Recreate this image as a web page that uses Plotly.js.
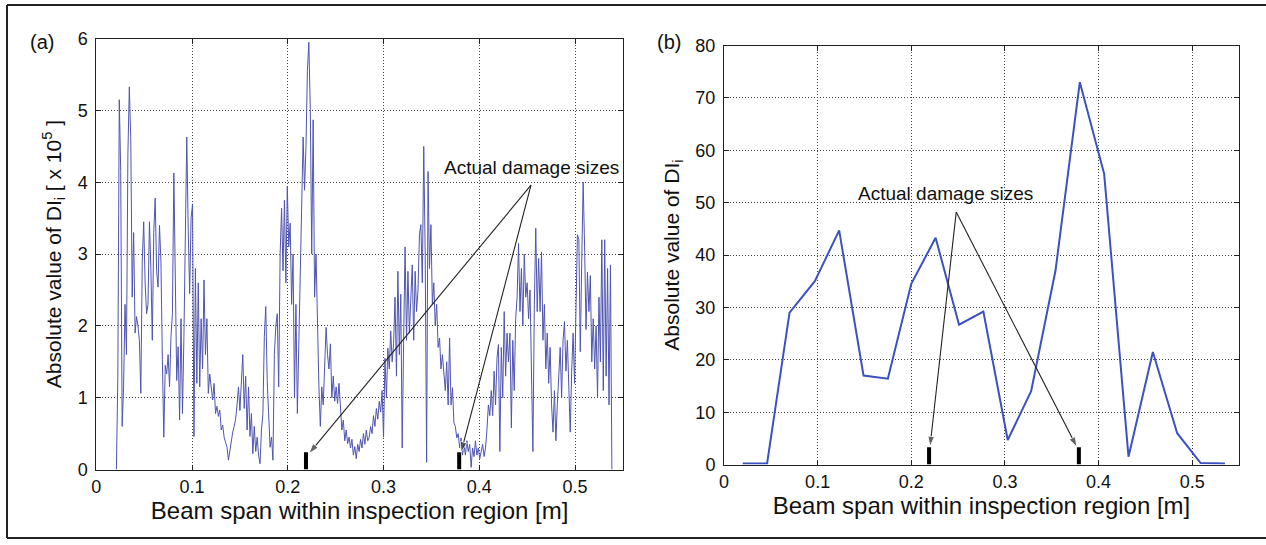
<!DOCTYPE html>
<html><head><meta charset="utf-8">
<script src="https://cdn.plot.ly/plotly-3.0.1.min.js"></script>
<style>html,body{margin:0;padding:0;background:#fff}#chart{width:1266px;height:545px}</style>
</head><body><div id="chart"></div>
<script>
// ---------- data ----------
// (a) |DI_i| in units of 1e5, sampled uniformly along the span
const spanStartA = 0.021;   // m, first sample
const spanStepA = 0.0015;   // m, sample spacing
const diA = [
0.0, 1.3, 5.15, 4.15, 0.6, 1.15, 2.3, 1.6, 4.4, 5.33,
4.6, 2.4, 3.3, 1.9, 2.13, 2.0, 1.8, 1.06, 2.9, 3.45,
2.6, 2.17, 2.3, 3.45, 2.8, 1.8, 3.3, 3.78, 2.77, 2.54,
3.4, 2.9, 1.53, 0.45, 1.45, 1.33, 1.6, 1.15, 1.85, 2.17,
4.13, 2.5, 1.24, 1.71, 0.69, 2.1, 0.78, 1.85, 3.66, 4.63,
3.33, 2.45, 3.5, 3.7, 0.46, 2.8, 1.2, 2.6, 1.15, 2.1,
1.4, 2.64, 1.6, 2.1, 1.06, 1.33, 1.15, 0.97, 1.2, 0.78,
0.88, 0.74, 0.83, 0.55, 0.62, 0.45, 0.38, 0.31, 0.13, 0.27,
0.4, 0.52, 0.6, 0.7, 0.9, 1.15, 0.82, 1.33, 1.6, 0.85,
1.3, 0.55, 1.15, 0.46, 0.78, 0.22, 0.6, 0.25, 0.45, 0.2,
0.08, 0.55, 0.78, 1.85, 2.27, 1.24, 0.69, 0.31, 0.45, 0.13,
1.6, 2.0, 2.17, 1.15, 3.0, 3.64, 2.77, 3.75, 2.6, 3.94,
3.1, 3.43, 2.3, 3.0, 1.0, 2.3, 0.78, 1.7, 2.4, 3.6,
4.63, 3.89, 4.5, 5.56, 5.95, 5.01, 3.0, 4.87, 2.4, 3.0,
1.9, 1.15, 0.6, 1.15, 0.9, 1.5, 1.98, 1.6, 1.4, 1.75,
1.0, 1.3, 0.95, 1.15, 0.92, 1.2, 0.78, 0.55, 0.69, 0.4,
0.55, 0.36, 0.45, 0.3, 0.42, 0.2, 0.32, 0.15, 0.35, 0.25,
0.42, 0.3, 0.5, 0.35, 0.55, 0.4, 0.45, 0.6, 0.5, 0.75,
0.6, 0.85, 0.7, 0.95, 0.8, 1.1, 0.45, 1.55, 1.0, 1.69,
1.4, 1.93, 1.5, 1.75, 2.4, 1.3, 2.76, 1.6, 2.44, 0.3,
1.8, 3.1, 1.8, 2.76, 1.9, 2.4, 2.85, 1.8, 2.76, 2.2,
2.5, 3.27, 3.41, 2.6, 4.5, 3.0, 0.1, 4.15, 2.8, 3.41,
2.3, 2.6, 2.0, 2.3, 1.7, 1.83, 1.4, 1.6, 1.37, 1.1,
1.5, 0.9, 1.83, 0.9, 1.14, 0.65, 0.6, 0.44, 0.5, 0.3,
0.44, 0.2, 0.35, 0.2, 0.4, 0.25, 0.35, 0.03, 0.3, 0.18,
0.4, 0.2, 0.3, 0.15, 0.25, 0.35, 0.18, 0.3, 0.55, 0.9,
0.75, 1.1, 0.75, 1.37, 0.9, 1.55, 1.74, 0.25, 1.7, 1.0,
2.2, 1.3, 1.9, 1.5, 1.9, 0.58, 1.8, 1.1, 2.1, 2.4,
3.15, 2.2, 2.8, 2.0, 3.0, 2.4, 2.6, 2.1, 2.5, 1.5,
0.25, 2.3, 3.36, 2.2, 2.94, 2.2, 3.03, 1.8, 2.3, 1.4,
1.9, 1.2, 1.7, 0.9, 0.52, 1.1, 0.4, 0.9, 1.3, 1.7,
1.0, 1.8, 2.06, 1.37, 1.8, 1.14, 0.52, 1.37, 1.9, 1.2,
2.3, 3.27, 3.2, 1.64, 2.9, 4.0, 3.1, 1.95, 2.75, 2.2,
2.7, 1.5, 2.1, 1.4, 2.0, 1.0, 2.4, 1.5, 3.2, 1.1,
3.2, 1.3, 2.8, 0.9, 2.85, 0.0
];

// (b) |DI_i|
const spanB = [0.020, 0.046, 0.070, 0.097, 0.123, 0.149, 0.175, 0.200, 0.226, 0.251, 0.277,
               0.303, 0.328, 0.354, 0.380, 0.406, 0.432, 0.458, 0.484, 0.509, 0.535];
const diB = [0.2, 0.2, 29, 35, 44.7, 17, 16.4, 34.5, 43.3, 26.7, 29.2,
             4.7, 14, 37, 73, 55.5, 1.5, 21.5, 6, 0.3, 0.2];

// actual damage locations and drawn marker heights
const damageX = [0.219, 0.379];
const damageA = [0.24, 0.24];
const damageB = [3.3, 3.3];

// annotation anchor points (data units)
const labelA = {x: 0.455, y: 4.2};
const tailA = {x: 0.454, y: 3.96};
const headsA = [{x: 0.222, y: 0.22}, {x: 0.381, y: 0.24}];
const labelB = {x: 0.237, y: 51.7};
const tailB = {x: 0.248, y: 48.2};
const headsB = [{x: 0.220, y: 3.4}, {x: 0.377, y: 3.3}];

const xTickVals = [0, 0.1, 0.2, 0.3, 0.4, 0.5];
const xTickText = ['0', '0.1', '0.2', '0.3', '0.4', '0.5'];
const yTickValsA = [0, 1, 2, 3, 4, 5, 6];
const yTickValsB = [0, 10, 20, 30, 40, 50, 60, 70, 80];

// ---------- figure ----------
const FONT = '"Liberation Sans", Arial, Helvetica, sans-serif';
const W = 1266, H = 545;
const px = v => v / W;
const py = v => 1 - v / H;

function barTrace(xs, hs, xa, ya) {
  const x = [], y = [];
  xs.forEach((d, k) => { if (k) { x.push(null); y.push(null); } x.push(d, d); y.push(0, hs[k]); });
  return {x, y, xaxis: xa, yaxis: ya, type: 'scatter', mode: 'lines',
          line: {color: '#000', width: 4}, hoverinfo: 'skip', showlegend: false};
}
function arrowTrace(tail, heads, xa, ya) {
  const x = [], y = [], size = [];
  heads.forEach((h, k) => {
    if (k) { x.push(null); y.push(null); size.push(0); }
    x.push(tail.x, h.x); y.push(tail.y, h.y); size.push(0, 11);
  });
  return {x, y, xaxis: xa, yaxis: ya, type: 'scatter', mode: 'lines+markers',
          line: {color: '#222', width: 1.1},
          marker: {symbol: 'arrow', angleref: 'previous', size, color: '#222'},
          cliponaxis: false, hoverinfo: 'skip', showlegend: false};
}

const traces = [
  {y: diA, x0: spanStartA, dx: spanStepA, type: 'scatter', mode: 'lines',
   line: {color: '#4f55b0', width: 1}, xaxis: 'x', yaxis: 'y', showlegend: false},
  barTrace(damageX, damageA, 'x', 'y'),
  arrowTrace(tailA, headsA, 'x', 'y'),
  {x: spanB, y: diB, type: 'scatter', mode: 'lines',
   line: {color: '#3b52c2', width: 2}, xaxis: 'x2', yaxis: 'y2', showlegend: false},
  barTrace(damageX, damageB, 'x2', 'y2'),
  arrowTrace(tailB, headsB, 'x2', 'y2')
];

const axCommon = {
  showline: true, linecolor: '#222', linewidth: 1, mirror: 'ticks',
  ticks: 'inside', ticklen: 5, tickcolor: '#222', tickwidth: 1,
  showgrid: true, gridcolor: '#444', gridwidth: 1, griddash: '1px,2px',
  zeroline: false, automargin: false,
  tickfont: {family: FONT, size: 18, color: '#111'}
};

function xAxis(domain, anchor) {
  return Object.assign({}, axCommon, {
    domain, anchor, range: [0, 0.55], tickmode: 'array',
    tickvals: xTickVals, ticktext: xTickText, ticklabelstandoff: 1,
    title: {text: 'Beam span within inspection region [m]',
            font: {family: FONT, size: 24, color: '#111'}, standoff: 5}
  });
}
function yAxis(domain, anchor, range, vals, title) {
  return Object.assign({}, axCommon, {
    domain, anchor, range, tickmode: 'array', tickvals: vals, ticklabelstandoff: 4,
    title: {text: title, font: {family: FONT, size: 21, color: '#111'}, standoff: 10}
  });
}

const annotations = [
  {xref: 'paper', yref: 'paper', x: px(42), y: py(42), xanchor: 'center', yanchor: 'middle',
   text: '(a)', showarrow: false, font: {family: FONT, size: 20, color: '#111'}},
  {xref: 'paper', yref: 'paper', x: px(669), y: py(42), xanchor: 'center', yanchor: 'middle',
   text: '(b)', showarrow: false, font: {family: FONT, size: 20, color: '#111'}},
  {xref: 'x', yref: 'y', x: labelA.x, y: labelA.y, xanchor: 'center', yanchor: 'middle',
   text: 'Actual damage sizes', showarrow: false, font: {family: FONT, size: 19, color: '#111'}},
  {xref: 'x2', yref: 'y2', x: labelB.x, y: labelB.y, xanchor: 'center', yanchor: 'middle',
   text: 'Actual damage sizes', showarrow: false, font: {family: FONT, size: 19, color: '#111'}}
];

const frame = {color: '#222', width: 2};
const shapes = [
  {type: 'line', xref: 'paper', yref: 'paper', x0: px(7), x1: 1, y0: py(5), y1: py(5), line: frame},
  {type: 'line', xref: 'paper', yref: 'paper', x0: px(7), x1: px(7), y0: py(5), y1: py(538), line: frame},
  {type: 'line', xref: 'paper', yref: 'paper', x0: px(7), x1: 1, y0: py(538), y1: py(538), line: frame}
];

const layout = {
  width: W, height: H, margin: {l: 0, r: 0, t: 0, b: 0},
  paper_bgcolor: '#fff', plot_bgcolor: '#fff',
  font: {family: FONT, color: '#111'},
  showlegend: false,
  xaxis: xAxis([px(96.3), px(622.9)], 'y'),
  yaxis: yAxis([py(469.5), py(38.7)], 'x', [0, 6], yTickValsA,
               'Absolute value of DI<sub>i</sub> [ x 10<sup>5</sup> ]'),
  xaxis2: xAxis([px(724), px(1239)], 'y2'),
  yaxis2: yAxis([py(464.6), py(45.5)], 'x2', [0, 80], yTickValsB,
                'Absolute value of DI<sub>i</sub>'),
  annotations, shapes
};

Plotly.newPlot('chart', traces, layout, {displayModeBar: false, staticPlot: true});
</script>
</body></html>
